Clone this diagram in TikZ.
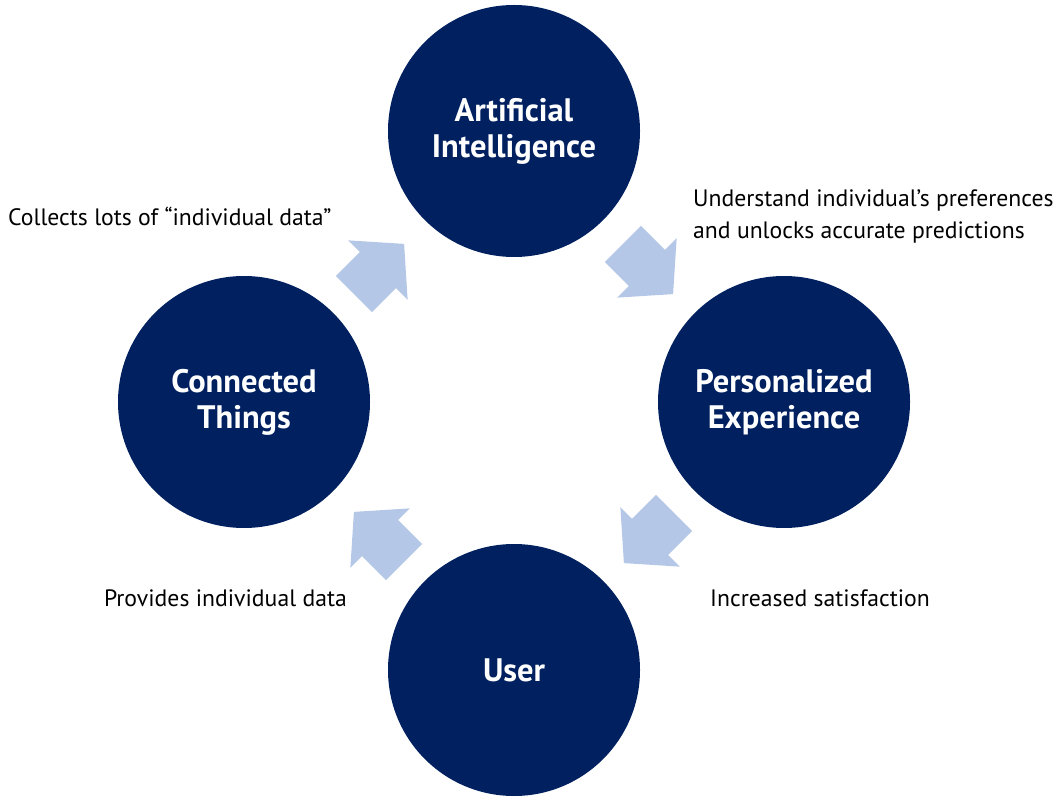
\documentclass[tikz,border=0pt]{standalone}
\usepackage{fontspec}
\setmainfont{PT Sans}
\usepackage{tikz}

\definecolor{navy}{HTML}{002060}
\definecolor{paleblue}{HTML}{B4C7E7}

\newcommand{\hubfont}{\bfseries\fontsize{32.5}{36}\selectfont}
\newcommand{\notefont}{\fontsize{23.7}{32}\selectfont}

\tikzset{
  hub/.style={circle, fill=navy, text=white, minimum size=252pt, inner sep=0pt,
    align=center, font=\hubfont},
  note/.style={inner sep=0pt, align=left, font=\notefont},
  flow/.style={fill=paleblue}
}

\begin{document}
\begin{tikzpicture}[x=1pt,y=1pt]
\clip (0,0) rectangle (1060,796);

% the four circles
\node[hub] (ai) at (514,665) {Artificial\\Intelligence};
\node[hub] (things) at (244,394) {Connected\\Things};
\node[hub] (experience) at (784,394) {Personalized\\Experience};
\node[hub] (user) at (514,126) {User};

% block arrows between them
\foreach \cx/\cy/\ang in {379/527/45, 648/527/-45, 649/258/-135, 379/259/135}
    {\fill[flow, shift={(\cx,\cy)}, rotate=\ang]
        (-35.5,-25.5) -- (-1.5,-25.5) -- (-1.5,-42) -- (35.5,0)
        -- (-1.5,42) -- (-1.5,25.5) -- (-35.5,25.5) -- cycle;}

% labels
\node[note, anchor=west] (collects) at (8,580) {Collects lots of ``individual data''};
\node[note, anchor=west] (understand) at (693,580) {Understand individual’s preferences\\and unlocks accurate predictions};
\node[note, anchor=west] (increased) at (710,198) {Increased satisfaction};
\node[note, anchor=east] (provides) at (347,198) {Provides individual data};

\end{tikzpicture}
\end{document}
